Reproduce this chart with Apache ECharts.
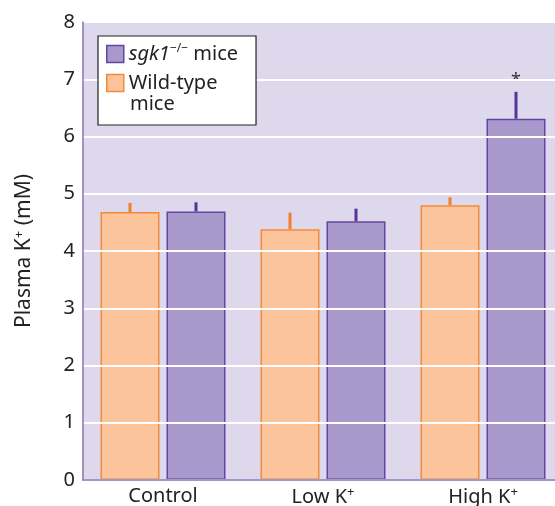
<html>
  <head>
    <meta charset="utf-8" />
    <script src="https://cdn.jsdelivr.net/npm/echarts@6/dist/echarts.min.js"></script>
  </head>
  <body>
    <style>
      html,
      body,
      #main {
        width: 100%;
        height: 100%;
        margin: 0;
      }
    </style>
    <div id="main"></div>
    <script>
      const categories = ["Control", "Low K+", "High K+"];
      const wildType = [4.68, 4.38, 4.8];
      const wildTypeErr = [0.16, 0.29, 0.14];
      const knockout = [4.69, 4.52, 6.31];
      const knockoutErr = [0.16, 0.22, 0.47];
      const marks = ["", "", "*"];
      const yTicks = [0, 1, 2, 3, 4, 5, 6, 7, 8];

      const font = "Noto Sans";
      const barW = 59;
      const gap = 7;

      var chart = echarts.init(document.getElementById("main"));

      function errSeries(name, values, errs, color, side) {
        return {
          type: "custom",
          name: name + " err",
          z: 1,
          silent: true,
          data: values.map((v, i) => [i, v, v + errs[i], marks[i]]),
          renderItem: function (params, api) {
            const top = api.coord([api.value(0), api.value(2)]);
            const base = api.coord([api.value(0), api.value(1)]);
            const x = top[0] + side * (barW + gap) / 2;
            const children = [
              {
                type: "line",
                shape: { x1: x, y1: base[1], x2: x, y2: top[1] },
                style: { stroke: color, lineWidth: 3 },
              },
            ];
            const m = side > 0 ? marks[params.dataIndex] : "";
            if (m) {
              children.push({
                type: "text",
                style: {
                  text: m,
                  x: x,
                  y: top[1] - 2,
                  align: "center",
                  verticalAlign: "bottom",
                  fontSize: 18,
                  fontFamily: font,
                  fill: "#333",
                },
              });
            }
            return { type: "group", children: children };
          },
        };
      }

      var option = {
        animation: false,
        textStyle: { fontFamily: font },
        grid: {
          left: 83,
          width: 480,
          top: 22,
          bottom: 26,
          outerBoundsMode: "none",
          containLabel: false,
          show: true,
          backgroundColor: "#DDD8EC",
          borderWidth: 0,
        },
        legend: {
          left: 98,
          top: 36,
          z: 10,
          orient: "vertical",
          data: ["sgk1", "Wild-type"],
          backgroundColor: "#fff",
          borderColor: "#222",
          borderWidth: 1.2,
          borderRadius: 0,
          padding: [7, 18, 32, 8],
          itemGap: 9,
          itemWidth: 17,
          itemHeight: 17,
          icon: "rect",
          itemStyle: { borderWidth: 1.5 },
          textStyle: {
            fontSize: 20,
            color: "#222",
            fontFamily: font,
            rich: {
              i: { fontSize: 20, fontStyle: "italic", color: "#222", fontFamily: font },
              sup: { fontSize: 12, color: "#222", verticalAlign: "top", padding: [0, 0, 10, 0], fontFamily: font },
              n: { fontSize: 20, color: "#222", fontFamily: font },
            },
          },
          formatter: function (name) {
            if (name === "sgk1") return "{i|sgk1}{sup|−/−}{n| mice}";
            return "Wild-type";
          },
        },
        graphic: [
          {
            type: "text",
            left: 130,
            top: 94,
            z: 100,
            style: { text: "mice", fontSize: 20, fill: "#222", fontFamily: font },
          },
        ],
        xAxis: {
          type: "category",
          data: categories,
          z: 5,
          axisTick: { show: false },
          axisLine: { lineStyle: { color: "#8474B8", width: 1.5 } },
          axisLabel: {
            interval: 0,
            fontSize: 20,
            color: "#222",
            margin: 6,
            formatter: function (v) {
              return v.replace("K+", "K{sup|+}");
            },
            rich: {
              sup: { fontSize: 13, color: "#222", verticalAlign: "top", padding: [0, 0, 10, 0] },
            },
          },
        },
        yAxis: {
          type: "value",
          min: yTicks[0],
          max: yTicks[yTicks.length - 1],
          interval: 1,
          name: "Plasma K{sup|+} (mM)",
          nameLocation: "middle",
          nameGap: 47,
          nameTextStyle: {
            fontSize: 21,
            color: "#222",
            rich: {
              sup: { fontSize: 13, color: "#222", verticalAlign: "top", padding: [0, 0, 10, 0] },
            },
          },
          z: 5,
          axisLine: { show: true, lineStyle: { color: "#8474B8", width: 1.5 } },
          axisTick: { show: false },
          axisLabel: { fontSize: 20, color: "#222", margin: 8 },
          splitLine: { lineStyle: { color: "#fff", width: 2 } },
        },
        series: [
          errSeries("wt", wildType, wildTypeErr, "#F07F2A", -1),
          errSeries("ko", knockout, knockoutErr, "#56359A", 1),
          {
            type: "bar",
            name: "Wild-type",
            data: wildType,
            barWidth: barW,
            barGap: (gap / barW) * 100 + "%",
            z: 2,
            itemStyle: { color: "#FCC49A", borderColor: "#F28A3A", borderWidth: 1.5 },
          },
          {
            type: "bar",
            name: "sgk1",
            data: knockout,
            barWidth: barW,
            barGap: (gap / barW) * 100 + "%",
            z: 2,
            itemStyle: { color: "#A898CB", borderColor: "#6545A3", borderWidth: 1.5 },
          },
        ],
      };

      chart.setOption(option);
      window.onresize = chart.resize;
    </script>
  </body>
</html>
